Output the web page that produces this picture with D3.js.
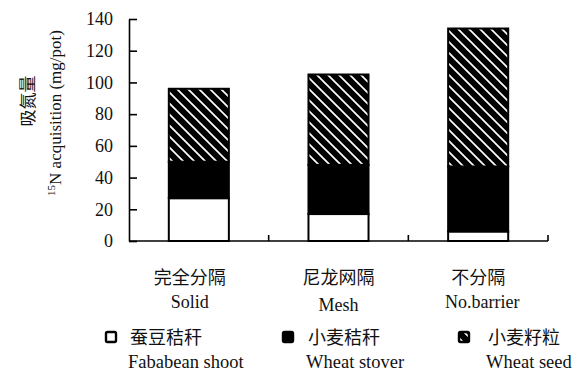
<!DOCTYPE html>
<html>
<head>
<meta charset="utf-8">
<script src="https://cdn.jsdelivr.net/npm/d3@7"></script>
<style>
  body { margin: 0; background: #fff; }
  svg text { font-family: "Liberation Serif", "Times New Roman", serif; fill: #111; }
  .cjk { font-family: "Noto Sans CJK SC", sans-serif; }
</style>
</head>
<body>
<svg id="chart" width="584" height="371"></svg>
<script>
// treatments
const CATEGORIES_ZH = ['完全分隔', '尼龙网隔', '不分隔']
const CATEGORIES_EN = ['Solid', 'Mesh', 'No.barrier']
// 15N acquisition (mg/pot) per organ
const FABABEAN_SHOOT = [27, 17, 6]
const WHEAT_STOVER = [23, 31, 41]
const WHEAT_SEED = [46, 57, 87]
const SERIES_ZH = ['蚕豆秸秆', '小麦秸秆', '小麦籽粒']
const SERIES_EN = ['Fababean shoot', 'Wheat stover', 'Wheat seed']
const Y_TICKS = [0, 20, 40, 60, 80, 100, 120, 140]

const svg = d3.select('#chart')
const plotLeft = 129, plotRight = 548, plotTop = 19, plotBottom = 241

// hatch for wheat seed: black with thin white "\" stripes
const defs = svg.append('defs')
const pat = defs.append('pattern').attr('id', 'hatch')
  .attr('patternUnits', 'userSpaceOnUse').attr('width', 11).attr('height', 11)
pat.append('rect').attr('width', 11).attr('height', 11).attr('fill', '#000')
pat.append('path').attr('d', 'M0,0L11,11M-3,8L3,14M8,-3L14,3')
  .attr('stroke', '#fff').attr('stroke-width', 1.7)

const x = d3.scaleBand().domain(CATEGORIES_EN).range([plotLeft, plotRight])
  .paddingInner(0.57).paddingOuter(0.285)
const y = d3.scaleLinear().domain([0, 140]).range([plotBottom, plotTop])

const rows = CATEGORIES_EN.map((c, i) => ({
  cat: c, fababean: FABABEAN_SHOOT[i], stover: WHEAT_STOVER[i], seed: WHEAT_SEED[i]
}))
const keys = ['fababean', 'stover', 'seed']
const fills = ['#fff', '#000', 'url(#hatch)']
const stacked = d3.stack().keys(keys)(rows)

const g = svg.append('g')
stacked.forEach((layer, k) => {
  g.selectAll('.l' + k).data(layer).enter().append('rect')
    .attr('x', d => x(d.data.cat))
    .attr('y', d => y(d[1]))
    .attr('width', x.bandwidth())
    .attr('height', d => y(d[0]) - y(d[1]))
    .attr('fill', fills[k])
    .attr('stroke', '#000').attr('stroke-width', 2)
})

// y axis with inward ticks
const yAxis = svg.append('g').attr('transform', 'translate(' + plotLeft + ',0)')
  .call(d3.axisLeft(y).tickValues(Y_TICKS).tickSizeInner(-8).tickSizeOuter(0).tickPadding(16))
yAxis.attr('font-family', null).attr('font-size', 18)
yAxis.select('.domain').attr('stroke-width', 1.6)
yAxis.selectAll('.tick line').attr('stroke-width', 1.6)
yAxis.selectAll('.tick text').attr('fill', '#111')

// x axis line with ticks at the category boundaries
svg.append('line').attr('x1', plotLeft).attr('x2', plotRight).attr('y1', plotBottom).attr('y2', plotBottom)
  .attr('stroke', '#000').attr('stroke-width', 1.6)
d3.range(1, CATEGORIES_EN.length + 1).forEach(i => {
  const bx = plotLeft + x.step() * i
  svg.append('line').attr('x1', bx).attr('x2', bx).attr('y1', plotBottom).attr('y2', plotBottom - 6)
    .attr('stroke', '#000').attr('stroke-width', 1.6)
})

// category labels
CATEGORIES_EN.forEach((c, i) => {
  const cx = x(c) + x.bandwidth() / 2 - (i === 0 ? 9 : 0)
  svg.append('text').attr('class', 'cjk').attr('x', cx).attr('y', 284)
    .attr('text-anchor', 'middle').attr('font-size', 18).text(CATEGORIES_ZH[i])
  svg.append('text').attr('x', cx + (i === 2 ? 4 : 0)).attr('y', 308 + (i === 1 ? 3 : 0))
    .attr('text-anchor', 'middle').attr('font-size', 18).text(c)
})

// y label
svg.append('text').attr('class', 'cjk')
  .attr('transform', 'translate(34,101) rotate(-90)')
  .attr('text-anchor', 'middle').attr('font-size', 17).text('吸氮量')
const yl = svg.append('text')
  .attr('transform', 'translate(61,113) rotate(-90)')
  .attr('text-anchor', 'middle').attr('font-size', 17)
yl.append('tspan').attr('font-size', 11).attr('dy', -6).text('15')
yl.append('tspan').attr('dy', 6).text('N acquisition (mg/pot)')

// legend
const legX = [105, 282, 458]
const legTextX = [130, 308, 488]
SERIES_EN.forEach((s, i) => {
  svg.append('rect').attr('x', legX[i] + 1).attr('y', 332).attr('width', 10).attr('height', 10)
    .attr('rx', 1.5)
    .attr('fill', fills[i]).attr('stroke', '#000').attr('stroke-width', 2.4)
  svg.append('text').attr('class', 'cjk').attr('x', legTextX[i]).attr('y', 344)
    .attr('font-size', 18).text(SERIES_ZH[i])
  svg.append('text').attr('x', legTextX[i] - 2).attr('y', 368)
    .attr('font-size', 18.5).text(s)
})
</script>
</body>
</html>
